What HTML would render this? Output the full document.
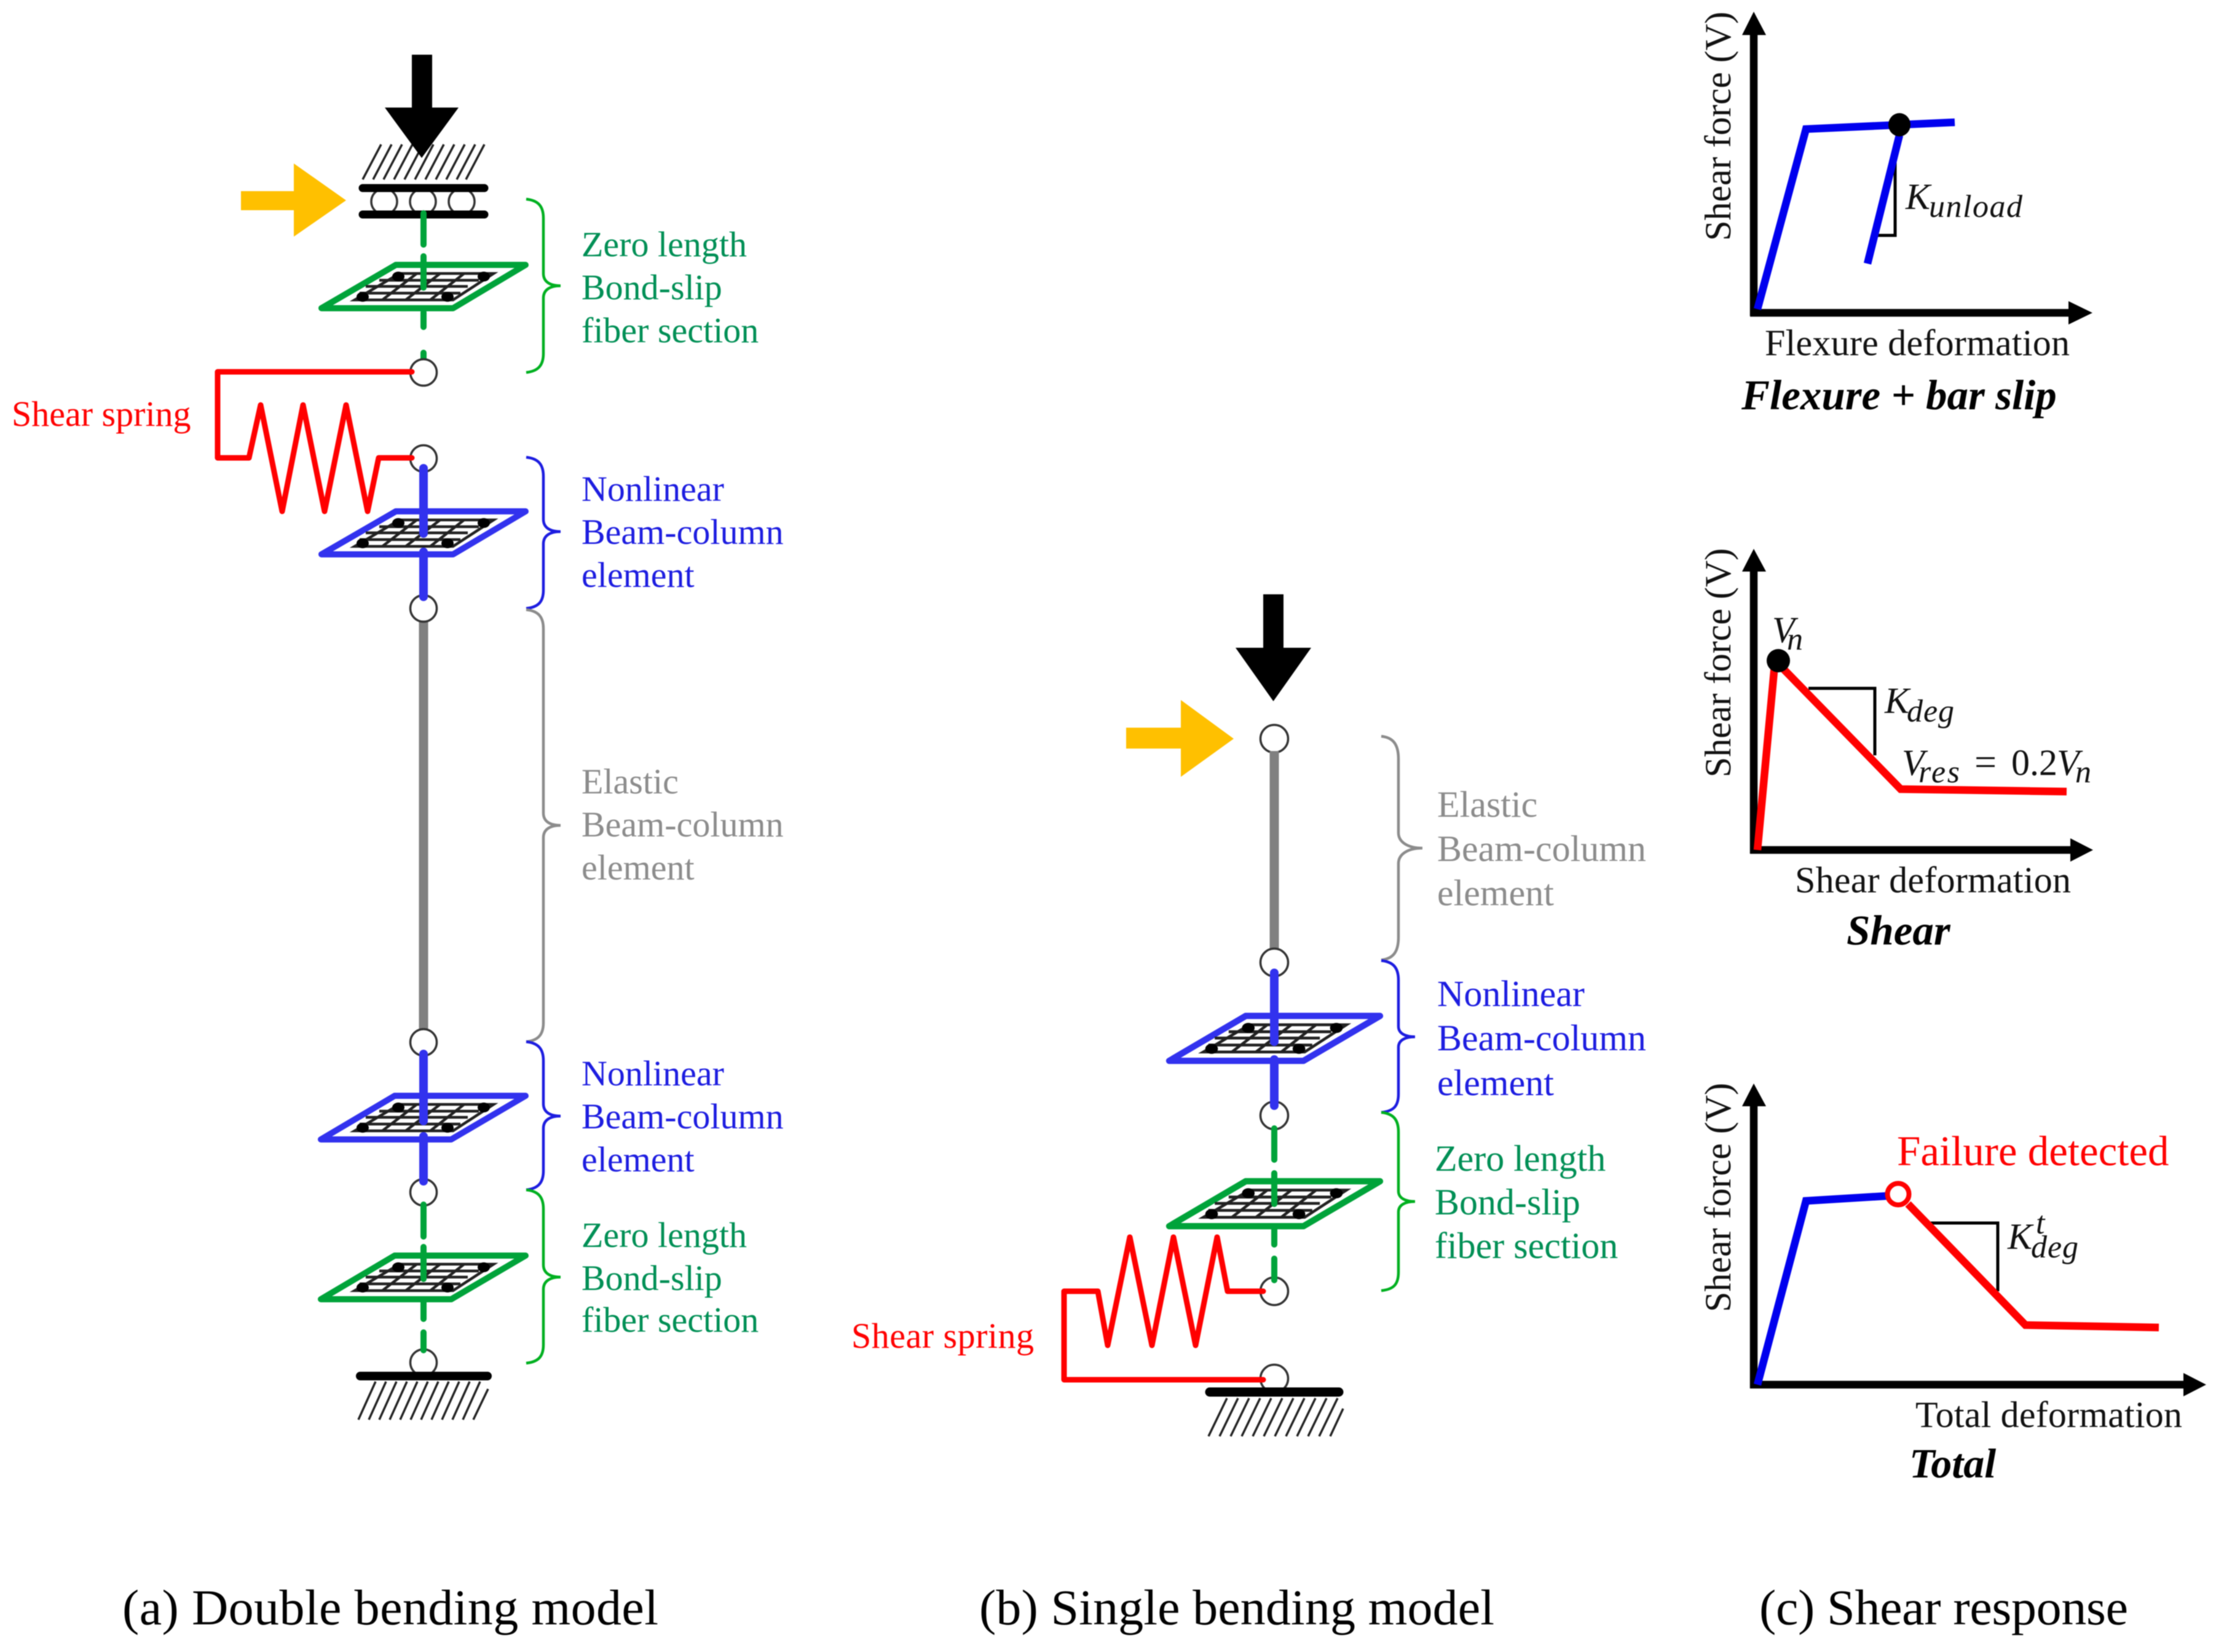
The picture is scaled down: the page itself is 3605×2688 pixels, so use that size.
<!DOCTYPE html>
<html><head><meta charset="utf-8"><style>
html,body{margin:0;padding:0;background:#fff}
svg{display:block;filter:blur(.9px)}
text{font-family:"Liberation Serif",serif}
.g{fill:#008f55;font-size:58px}.b{fill:#1d1de0;font-size:58px}.y{fill:#8c8c8c;font-size:58px}
.g2{fill:#008f55;font-size:60px}.b2{fill:#1d1de0;font-size:60px}.y2{fill:#8c8c8c;font-size:60px}
.r{fill:#f00;font-size:58px}.k{fill:#111;font-size:60px}
.t{fill:#000;font-weight:bold;font-style:italic}
.c{fill:#000;font-size:82px}
.m{fill:#111;font-style:italic}
</style></head><body>
<svg xmlns="http://www.w3.org/2000/svg" width="3605" height="2688" viewBox="0 0 3605 2688">
<rect width="3605" height="2688" fill="#fff"/>
<defs>
<g id="grid">
<path d="M-39 14H114L48 57H-112Z" fill="#fff" stroke="#222" stroke-width="4.5"/>
<path d="M-72 25H90M-94 35H72M-104 46H60M-11 14L-67 57M27 14L-29 57M66 14L11 57" fill="none" stroke="#222" stroke-width="4.5"/>
<ellipse cx="-41" cy="19" rx="10" ry="8" fill="#000"/><ellipse cx="98" cy="19" rx="10" ry="8" fill="#000"/>
<ellipse cx="-99" cy="52" rx="10" ry="8" fill="#000"/><ellipse cx="39" cy="52" rx="10" ry="8" fill="#000"/>
</g>
</defs>

<!-- (a) column -->
<path d="M590 292l30-57M607 292l30-57M624 292l30-57M641 292l30-57M658 292l30-57M675 292l30-57M692 292l30-57M709 292l30-57M726 292l30-57M743 292l30-57M758 292l30-57" stroke="#222" stroke-width="3.5" fill="none"/>
<polygon points="670,89 703,89 703,175 746,175 686,257 626,175 670,175" fill="#000"/>
<polygon points="392,311 478,311 478,266 563,326 478,385 478,342 392,342" fill="#ffc000"/>
<g fill="#fff" stroke="#333" stroke-width="3.5"><circle cx="625" cy="328" r="21"/><circle cx="688" cy="328" r="21"/><circle cx="751" cy="328" r="21"/></g>
<path d="M590 306H788M590 349H788" stroke="#000" stroke-width="13" stroke-linecap="round"/>

<polygon points="644,431 855,431 737,501.5 523,501.5" fill="#fff" stroke="#00a33a" stroke-width="10" stroke-linejoin="round"/>
<use href="#grid" x="689" y="431"/>
<path d="M689 347V398M689 417V468M689 508V532M689 574V590" stroke="#00a33a" stroke-width="10" stroke-linecap="round" fill="none"/>

<polygon points="644,832 855,832 737,902 523,902" fill="#fff" stroke="#3232ee" stroke-width="10" stroke-linejoin="round"/>
<use href="#grid" x="689" y="832"/>

<path d="M689 1000V1690" stroke="#808080" stroke-width="15" fill="none"/>
<polygon points="642,1783 855,1783 734,1854 522,1854" fill="#fff" stroke="#3232ee" stroke-width="10" stroke-linejoin="round"/>
<use href="#grid" x="689" y="1783"/>
<polygon points="642,2043 855,2043 734,2114 522,2114" fill="#fff" stroke="#00a33a" stroke-width="10" stroke-linejoin="round"/>
<use href="#grid" x="689" y="2043"/>

<g fill="#fff" stroke="#333" stroke-width="3.5">
<circle cx="689" cy="606" r="21.5"/><circle cx="689" cy="746" r="21.5"/><circle cx="689" cy="990" r="21.5"/>
<circle cx="689" cy="1696" r="21.5"/><circle cx="689" cy="1940" r="21.5"/><circle cx="689" cy="2217" r="21.5"/>
</g>
<path d="M689 762V868M689 898V971M689 1715V1824M689 1849V1922" stroke="#3232ee" stroke-width="14" fill="none" stroke-linecap="round"/>
<path d="M689 1960V2012M689 2029V2081M689 2119V2146M689 2168V2197" stroke="#00a33a" stroke-width="10" fill="none" stroke-linecap="round"/>
<path d="M670 605H354V745H405L424 659L459 832L493 659L528 832L563 659L598 832L616 745H670" fill="none" stroke="#f00" stroke-width="9" stroke-linejoin="round" stroke-linecap="round"/>
<path d="M586 2239H793" stroke="#000" stroke-width="14" stroke-linecap="round"/>
<path d="M583 2310l28-62M600 2310l28-62M617 2310l28-62M634 2310l28-62M651 2310l28-62M668 2310l28-62M685 2310l28-62M702 2310l28-62M719 2310l28-62M736 2310l28-62M753 2310l28-62M770 2310l24-50" stroke="#222" stroke-width="3.5" fill="none"/>

<!-- braces a -->
<g fill="none" stroke-width="4.5">
<path d="M856 324C875 326 884 335 884 355V445C884 458 894 465 912 465C894 465 884 472 884 485V575C884 595 875 604 856 606" stroke="#00b020"/>
<path d="M856 744C875 746 884 755 884 775V845C884 858 894 865 912 865C894 865 884 872 884 885V960C884 980 875 988 856 990" stroke="#1d1de0"/>
<path d="M856 992C875 994 884 1003 884 1023V1323C884 1336 894 1343 912 1343C894 1343 884 1350 884 1363V1664C884 1684 875 1693 856 1695" stroke="#8c8c8c"/>
<path d="M856 1695C875 1697 884 1706 884 1726V1796C884 1809 894 1816 912 1816C894 1816 884 1823 884 1836V1905C884 1925 875 1934 856 1936" stroke="#1d1de0"/>
<path d="M856 1936C875 1938 884 1947 884 1967V2058C884 2071 894 2078 912 2078C894 2078 884 2085 884 2098V2188C884 2208 875 2216 856 2218" stroke="#00b020"/>
</g>
<text class="g" x="946" y="417">Zero length</text><text class="g" x="946" y="487">Bond-slip</text><text class="g" x="946" y="557">fiber section</text>
<text class="b" x="946" y="815">Nonlinear</text><text class="b" x="946" y="885">Beam-column</text><text class="b" x="946" y="955">element</text>
<text class="y" x="946" y="1291">Elastic</text><text class="y" x="946" y="1361">Beam-column</text><text class="y" x="946" y="1431">element</text>
<text class="b" x="946" y="1766">Nonlinear</text><text class="b" x="946" y="1836">Beam-column</text><text class="b" x="946" y="1906">element</text>
<text class="g" x="946" y="2029">Zero length</text><text class="g" x="946" y="2099">Bond-slip</text><text class="g" x="946" y="2167">fiber section</text>
<text class="r" x="19" y="693">Shear spring</text>

<!-- (b) column -->
<polygon points="2055,967 2088,967 2088,1054 2133,1054 2071.5,1141 2010,1054 2055,1054" fill="#000"/>
<polygon points="1832,1184 1921,1184 1921,1139 2007,1202 1921,1264 1921,1218 1832,1218" fill="#ffc000"/>
<path d="M2073 1220V1550" stroke="#808080" stroke-width="15" fill="none"/>
<g transform="translate(2073 1653) scale(1.03)"><polygon points="-45,0 167,0 46,71 -166,71" fill="#fff" stroke="#3232ee" stroke-width="10" stroke-linejoin="round"/><use href="#grid"/></g>
<g transform="translate(2073 1922) scale(1.03)"><polygon points="-45,0 167,0 46,71 -166,71" fill="#fff" stroke="#00a33a" stroke-width="10" stroke-linejoin="round"/><use href="#grid"/></g>
<g fill="#fff" stroke="#333" stroke-width="3.5">
<circle cx="2073" cy="1202" r="22.5"/><circle cx="2073" cy="1566" r="22.5"/><circle cx="2073" cy="1815" r="22.5"/><circle cx="2073" cy="2101" r="22.5"/><circle cx="2073" cy="2243" r="22.5"/>
</g>
<path d="M2073 1222V1240" stroke="#808080" stroke-width="15" fill="none"/>
<path d="M2073 1583V1695M2073 1724V1799" stroke="#3232ee" stroke-width="14" fill="none" stroke-linecap="round"/>
<path d="M2073 1836V1887M2073 1909V1959M2073 1999V2025M2073 2048V2083" stroke="#00a33a" stroke-width="10" fill="none" stroke-linecap="round"/>
<path d="M2055 2101H1997L1980 2013L1945 2189L1909 2013L1874 2189L1838 2013L1802 2189L1786 2101H1731V2245H2055" fill="none" stroke="#f00" stroke-width="9" stroke-linejoin="round" stroke-linecap="round"/>
<path d="M1968 2265H2178" stroke="#000" stroke-width="15" stroke-linecap="round"/>
<path d="M1966 2337l30-62M1984 2337l30-62M2002 2337l30-62M2020 2337l30-62M2038 2337l30-62M2056 2337l30-62M2074 2337l30-62M2092 2337l30-62M2110 2337l30-62M2128 2337l30-62M2146 2337l30-62M2164 2337l21-45" stroke="#222" stroke-width="3.5" fill="none"/>
<g fill="none" stroke-width="4.5">
<path d="M2247 1198C2267 1200 2275 1212 2275 1235V1355C2275 1370 2290 1380 2314 1380C2290 1380 2275 1390 2275 1405V1525C2275 1548 2267 1560 2247 1562" stroke="#8c8c8c"/>
<path d="M2247 1563C2267 1565 2275 1575 2275 1595V1670C2275 1682 2287 1687 2302 1687C2287 1687 2275 1692 2275 1704V1780C2275 1800 2267 1808 2247 1810" stroke="#1d1de0"/>
<path d="M2247 1810C2267 1812 2275 1822 2275 1842V1938C2275 1950 2287 1955 2302 1955C2287 1955 2275 1960 2275 1972V2070C2275 2090 2267 2098 2247 2100" stroke="#00b020"/>
</g>
<text class="y2" x="2338" y="1329">Elastic</text><text class="y2" x="2338" y="1401">Beam-column</text><text class="y2" x="2338" y="1473">element</text>
<text class="b2" x="2338" y="1637">Nonlinear</text><text class="b2" x="2338" y="1709">Beam-column</text><text class="b2" x="2338" y="1782">element</text>
<text class="g2" x="2334" y="1905">Zero length</text><text class="g2" x="2334" y="1976">Bond-slip</text><text class="g2" x="2334" y="2047">fiber section</text>
<text class="r" x="1385" y="2193" font-size="59" textLength="297">Shear spring</text>

<!-- chart 1 -->
<path d="M2853 50V514M2847 509H3370" stroke="#000" stroke-width="12.5" fill="none"/>
<polygon points="2853,19 2873,57 2834,57" fill="#000"/><polygon points="3404,509 3365,490 3365,528" fill="#000"/>
<path d="M3083 262V383H3055" fill="none" stroke="#000" stroke-width="5"/>
<path d="M2859 503L2938 210L3180 199" fill="none" stroke="#00e" stroke-width="12.5"/>
<path d="M3090 220L3038 429" fill="none" stroke="#00e" stroke-width="12.5"/>
<ellipse cx="3090" cy="203" rx="18" ry="19" fill="#000"/>
<text class="k" transform="translate(2815 392) rotate(-90)">Shear force (V)</text>
<text class="m" x="3100" y="340" font-size="60">K</text><text class="m" x="3138" y="353" font-size="52" textLength="152">unload</text>
<text class="k" x="2871" y="578" font-size="60" textLength="496">Flexure deformation</text>
<text class="t" x="2833" y="666" font-size="69">Flexure + bar slip</text>

<!-- chart 2 -->
<path d="M2853 925V1389M2847 1383H3372" stroke="#000" stroke-width="12.5" fill="none"/>
<polygon points="2853,893 2873,930 2834,930" fill="#000"/><polygon points="3405,1383 3368,1364 3368,1402" fill="#000"/>
<path d="M2942 1120H3050V1229" fill="none" stroke="#000" stroke-width="5"/>
<path d="M2859 1383L2887 1082M2895 1082L3092 1284L3362 1288" fill="none" stroke="#f00" stroke-width="12.5"/>
<circle cx="2893" cy="1075" r="19" fill="#000"/>
<text class="k" transform="translate(2815 1265) rotate(-90)">Shear force (V)</text>
<text class="m" x="2883" y="1045" font-size="60">V</text><text class="m" x="2907" y="1057" font-size="52">n</text>
<text class="m" x="3066" y="1160" font-size="60">K</text><text class="m" x="3102" y="1174" font-size="52" textLength="77">deg</text>
<text class="m" x="3094" y="1261" font-size="60">V</text><text class="m" x="3121" y="1273" font-size="52" textLength="67">res</text>
<text x="3212" y="1261" font-size="64" fill="#111">=</text><text x="3272" y="1261" font-size="60" fill="#111">0.2</text>
<text class="m" x="3346" y="1261" font-size="60">V</text><text class="m" x="3376" y="1273" font-size="52">n</text>
<text class="k" x="2920" y="1452" font-size="60" textLength="449">Shear deformation</text>
<text class="t" x="3004" y="1537" font-size="69">Shear</text>

<!-- chart 3 -->
<path d="M2853 1795V2259M2847 2253H3556" stroke="#000" stroke-width="12.5" fill="none"/>
<polygon points="2853,1763 2873,1800 2834,1800" fill="#000"/><polygon points="3589,2253 3552,2234 3552,2272" fill="#000"/>
<path d="M3141 1990H3250V2101" fill="none" stroke="#000" stroke-width="5"/>
<path d="M2859 2253L2938 1954L3069 1946" fill="none" stroke="#00e" stroke-width="12.5"/>
<path d="M3104 1959L3295 2156L3512 2160" fill="none" stroke="#f00" stroke-width="12.5"/>
<circle cx="3088" cy="1943" r="17.5" fill="#fff" stroke="#f00" stroke-width="8"/>
<text class="k" transform="translate(2815 2135) rotate(-90)">Shear force (V)</text>
<text x="3086" y="1896" font-size="69" fill="#f00">Failure detected</text>
<text class="m" x="3266" y="2032" font-size="60">K</text><text class="m" x="3312" y="2007" font-size="52">t</text><text class="m" x="3304" y="2046" font-size="52" textLength="77">deg</text>
<text class="k" x="3116" y="2322" font-size="60" textLength="434">Total deformation</text>
<text class="t" x="3106" y="2404" font-size="68">Total</text>

<!-- captions -->
<text class="c" x="199" y="2643" textLength="872">(a) Double bending model</text>
<text class="c" x="1593" y="2643" textLength="838">(b) Single bending model</text>
<text class="c" x="2862" y="2643" textLength="600">(c) Shear response</text>
</svg>
</body></html>
